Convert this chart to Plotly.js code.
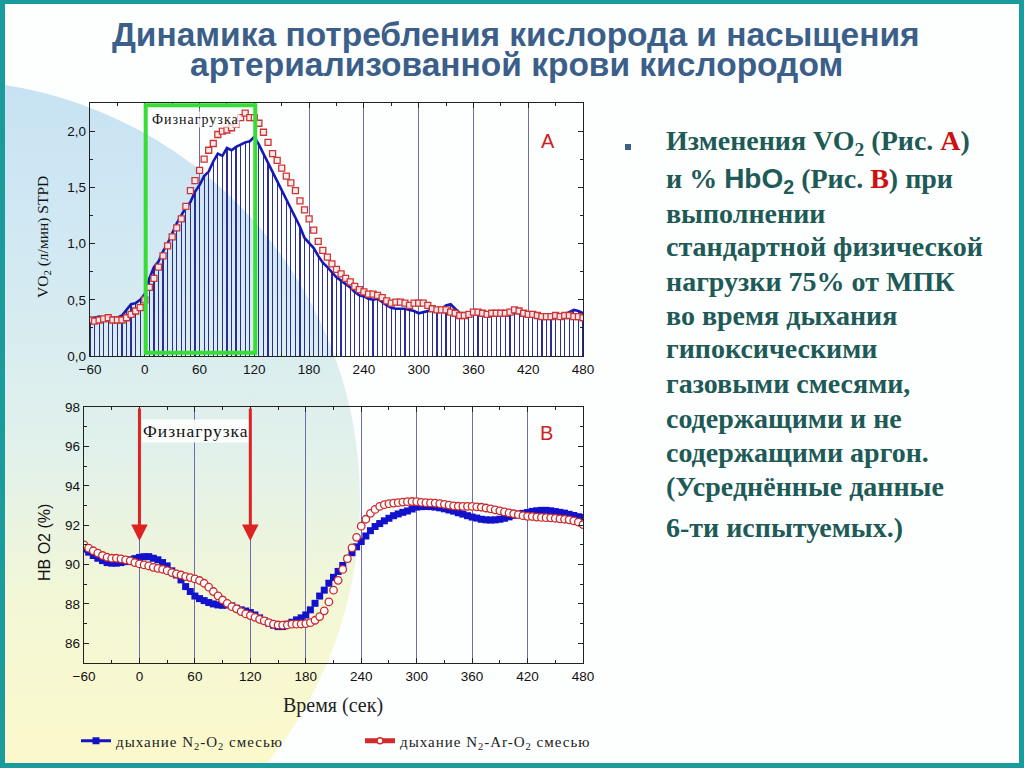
<!DOCTYPE html>
<html>
<head>
<meta charset="utf-8">
<script src="https://cdn.plot.ly/plotly-3.0.1.min.js"></script>
<style>
  html, body { margin:0; padding:0; width:1024px; height:768px; overflow:hidden; background:#fff; }
  #bg { position:absolute; left:0; top:0; width:1024px; height:768px; box-sizing:border-box;
        border:5px solid #1a9c9c; border-top-width:4px; background:#fdfefe; overflow:hidden; }
  #arc { position:absolute; left:-485px; top:76px; width:840px; height:840px; border-radius:50%;
         background:linear-gradient(to bottom, #c7e2f3 0%, #d3eaf3 22%, #e2f1ea 45%, #f3f7d6 62%, #fbf9cc 80%, #fcfacd 100%); }
  #chart { position:absolute; left:0; top:0; width:1024px; height:768px; }
</style>
</head>
<body>
<div id="bg"><div id="arc"></div></div>
<div id="chart"></div>
<script>
// time, seconds (common grid for both panels)
var timeSec = [-60,-55,-50,-45,-40,-35,-30,-25,-20,-15,-10,-5,0,5,10,15,20,25,30,35,40,45,50,55,
  60,65,70,75,80,85,90,95,100,105,110,115,120,125,130,135,140,145,150,155,160,165,170,175,
  180,185,190,195,200,205,210,215,220,225,230,235,240,245,250,255,260,265,270,275,280,285,290,295,
  300,305,310,315,320,325,330,335,340,345,350,355,360,365,370,375,380,385,390,395,400,405,410,415,
  420,425,430,435,440,445,450,455,460,465,470,475,480];

// Panel A: VO2 (л/мин) STPD
var vo2N2 = [0.33,0.34,0.35,0.34,0.33,0.34,0.34,0.36,0.41,0.46,0.47,0.50,0.55,0.69,0.79,0.84,0.93,1.00,1.09,1.18,1.25,1.32,1.37,1.46,
  1.52,1.60,1.64,1.73,1.80,1.78,1.85,1.83,1.86,1.88,1.90,1.91,1.95,1.88,1.80,1.72,1.64,1.56,1.48,1.40,1.32,1.24,1.15,1.05,
  1.00,0.96,0.89,0.83,0.79,0.74,0.70,0.67,0.64,0.61,0.57,0.54,0.53,0.51,0.50,0.51,0.48,0.45,0.43,0.42,0.42,0.42,0.41,0.40,
  0.38,0.39,0.40,0.41,0.41,0.42,0.45,0.46,0.42,0.38,0.37,0.37,0.38,0.38,0.38,0.37,0.37,0.37,0.37,0.37,0.38,0.39,0.38,0.37,
  0.37,0.37,0.36,0.36,0.36,0.36,0.36,0.36,0.37,0.39,0.41,0.40,0.38];
var vo2Ar = [0.32,0.31,0.32,0.33,0.34,0.32,0.32,0.32,0.34,0.37,0.40,0.43,0.50,0.61,0.69,0.79,0.89,0.98,1.06,1.14,1.22,1.33,1.47,1.56,
  1.65,1.75,1.83,1.89,1.97,2.00,2.01,2.03,2.06,2.12,2.16,2.12,2.12,2.07,1.99,1.90,1.80,1.74,1.67,1.60,1.54,1.47,1.38,1.30,
  1.22,1.12,1.02,0.94,0.88,0.82,0.77,0.73,0.69,0.66,0.62,0.59,0.57,0.55,0.55,0.54,0.52,0.49,0.47,0.48,0.48,0.47,0.45,0.47,
  0.47,0.47,0.45,0.42,0.41,0.41,0.41,0.39,0.38,0.36,0.36,0.37,0.39,0.39,0.38,0.37,0.38,0.38,0.38,0.38,0.39,0.41,0.40,0.38,
  0.37,0.37,0.36,0.35,0.35,0.35,0.36,0.35,0.36,0.36,0.35,0.35,0.34];

// Panel B: HB O2 (%)
var hbN2 = [90.78,90.63,90.46,90.32,90.20,90.10,90.07,90.07,90.10,90.15,90.24,90.30,90.36,90.40,90.40,90.32,90.24,90.10,89.93,89.68,89.47,89.22,88.88,88.63,
  88.40,88.27,88.17,88.07,88.00,87.95,87.93,87.95,87.90,87.78,87.70,87.64,87.56,87.44,87.29,87.15,87.02,86.92,86.85,86.85,86.97,87.07,87.19,87.29,
  87.44,87.70,88.03,88.40,88.70,89.05,89.35,89.65,89.95,90.30,90.60,90.90,91.17,91.45,91.72,91.93,92.08,92.22,92.35,92.48,92.57,92.65,92.72,92.82,
  92.92,92.94,92.95,92.94,92.92,92.88,92.83,92.77,92.71,92.63,92.56,92.48,92.41,92.36,92.30,92.27,92.26,92.27,92.30,92.35,92.42,92.50,92.56,92.60,
  92.64,92.70,92.73,92.75,92.75,92.73,92.69,92.65,92.61,92.55,92.49,92.43,92.39];
var hbAr = [91.00,90.83,90.70,90.58,90.46,90.37,90.32,90.32,90.29,90.24,90.19,90.10,90.03,89.98,89.93,89.86,89.81,89.76,89.69,89.59,89.53,89.47,89.39,89.34,
  89.27,89.19,89.05,88.85,88.63,88.41,88.20,88.03,87.86,87.75,87.61,87.49,87.41,87.32,87.22,87.14,87.05,86.97,86.93,86.92,86.93,86.97,86.97,86.98,
  87.00,87.05,87.17,87.36,87.65,88.10,88.70,89.20,89.75,90.30,90.85,91.38,91.95,92.30,92.60,92.80,92.95,93.04,93.09,93.12,93.14,93.17,93.19,93.20,
  93.19,93.16,93.14,93.13,93.12,93.09,93.06,93.02,92.98,92.96,92.95,92.95,92.95,92.93,92.91,92.87,92.83,92.78,92.73,92.67,92.62,92.58,92.53,92.48,
  92.45,92.44,92.41,92.39,92.38,92.37,92.35,92.32,92.30,92.27,92.22,92.15,92.03];

// exercise phase (s)
var loadPhase = [0, 120];

var seriesNames = ['дыхание N<sub>2</sub>-O<sub>2</sub> смесью', 'дыхание N<sub>2</sub>-Ar-O<sub>2</sub> смесью'];
var titleLines = ['Динамика потребления кислорода и насыщения', 'артериализованной крови кислородом'];
var bodyLines = [
  'Изменения VO<sub>2</sub> (Рис. <span style="color:#cc1111">А</span>)',
  'и % <span style="font-family:\'Liberation Sans\',Arial">HbO<sub>2</sub></span> (Рис. <span style="color:#cc1111">В</span>) при',
  'выполнении',
  'стандартной физической',
  'нагрузки 75% от МПК',
  'во время дыхания',
  'гипоксическими',
  'газовыми смесями,',
  'содержащими и не',
  'содержащими аргон.',
  '(Усреднённые данные',
  '6-ти испытуемых.)'
];
var bodyY = [142, 180, 213, 246, 281, 315, 349, 383, 418, 452, 486, 527];

var W = 1024, H = 768;
function px(x){ return x / W; }
function py(y){ return 1 - y / H; }
function spaced(s, ls){ return '<span style="letter-spacing:' + ls + 'px">' + s + '</span>'; }

var SANS = "'Liberation Sans', Arial, sans-serif";
var SERIF = "'Liberation Serif', 'Times New Roman', serif";

var traces = [
  { type:'bar', x:timeSec, y:vo2N2, width:1.3, xaxis:'x', yaxis:'y', showlegend:false,
    marker:{color:'#2c2c96', line:{width:0}}, hoverinfo:'skip' },
  { type:'scatter', mode:'lines', x:timeSec, y:vo2N2, xaxis:'x', yaxis:'y', showlegend:false,
    line:{color:'#1717b4', width:2.6} },
  { type:'scatter', mode:'markers', x:timeSec, y:vo2Ar, xaxis:'x', yaxis:'y', showlegend:false,
    marker:{symbol:'square', size:6, color:'rgba(255,236,236,0.95)', line:{color:'#cc3535', width:1.3}} },
  { type:'scatter', mode:'markers', x:timeSec, y:hbN2, xaxis:'x2', yaxis:'y2', showlegend:false,
    marker:{symbol:'square', size:7, color:'#1212cc', line:{width:0}} },
  { type:'scatter', mode:'markers', x:timeSec, y:hbAr, xaxis:'x2', yaxis:'y2', showlegend:false,
    marker:{symbol:'circle', size:7.5, color:'#ffffff', line:{color:'#cc2a2a', width:1.3}} },
  // legend entries
  { type:'scatter', mode:'lines+markers', x:[null], y:[null], xaxis:'x2', yaxis:'y2', name:spaced(seriesNames[0], 1),
    line:{color:'#1414c0', width:3}, marker:{symbol:'square', size:7, color:'#1414c0'} },
  { type:'scatter', mode:'lines+markers', x:[null], y:[null], xaxis:'x2', yaxis:'y2', name:spaced(seriesNames[1], 1),
    line:{color:'#d42a2a', width:5}, marker:{symbol:'circle', size:6, color:'#ffffff', line:{color:'#d42a2a', width:1.5}} }
];

function xAxisBase(domain, anchor){
  return {
    domain:domain, anchor:anchor, range:[-60,480], tick0:-60, dtick:60,
    ticks:'inside', ticklen:5, tickwidth:1, tickcolor:'#222', mirror:'ticks',
    showline:true, linecolor:'#222', linewidth:1.3, zeroline:false,
    showgrid:true, gridcolor:'#6c6cae', gridwidth:1,
    minor:{tick0:-60, dtick:30, ticks:'inside', ticklen:3, tickcolor:'#222', showgrid:false},
    tickfont:{family:SANS, size:13.5, color:'#111'}, fixedrange:true
  };
}
function yAxisBase(domain, anchor, range, dtick, mdtick){
  return {
    domain:domain, anchor:anchor, range:range, dtick:dtick,
    ticks:'inside', ticklen:5, tickwidth:1, tickcolor:'#222', mirror:'ticks',
    showline:true, linecolor:'#222', linewidth:1.3, zeroline:false, showgrid:false,
    minor:{dtick:mdtick, ticks:'inside', ticklen:3, tickcolor:'#222', showgrid:false},
    tickfont:{family:SANS, size:13.5, color:'#111'}, fixedrange:true
  };
}

var xa = xAxisBase([px(90), px(583)], 'y');
var ya = yAxisBase([py(356), py(103)], 'x', [0, 2.25], 0.5, 0.25);
ya.tickformat = '.1f';
var xb = xAxisBase([px(84), px(583)], 'y2');
var yb = yAxisBase([py(663), py(407)], 'x2', [85, 98], 2, 1);
yb.tick0 = 86;

var annotations = [];
annotations.push({xref:'paper', yref:'paper', x:px(516), y:py(35), text:titleLines[0], showarrow:false,
  xanchor:'center', yanchor:'middle', font:{family:SANS, size:33.5, color:'#3c5f8a', weight:'bold'}});
annotations.push({xref:'paper', yref:'paper', x:px(516), y:py(65), text:titleLines[1], showarrow:false,
  xanchor:'center', yanchor:'middle', font:{family:SANS, size:33.5, color:'#3c5f8a', weight:'bold'}});
for (var i = 0; i < bodyLines.length; i++) {
  annotations.push({xref:'paper', yref:'paper', x:px(664), y:py(bodyY[i]), text:bodyLines[i], showarrow:false,
    xanchor:'left', yanchor:'middle', align:'left', font:{family:SERIF, size:28, color:'#1e5a56', weight:'bold'}});
}
// axis titles
annotations.push({xref:'paper', yref:'paper', x:px(43), y:py(237), text:'VO<sub>2</sub> (л/мин) STPD', textangle:-90,
  showarrow:false, xanchor:'center', yanchor:'middle', font:{family:SERIF, size:15.5, color:'#111'}});
annotations.push({xref:'paper', yref:'paper', x:px(44), y:py(543), text:'HB O2 (%)', textangle:-90,
  showarrow:false, xanchor:'center', yanchor:'middle', font:{family:SANS, size:16, color:'#111'}});
annotations.push({xref:'paper', yref:'paper', x:px(333), y:py(705), text:'Время (сек)',
  showarrow:false, xanchor:'center', yanchor:'middle', font:{family:SERIF, size:20, color:'#222'}});
// panel labels
annotations.push({xref:'x', yref:'y', x:442, y:1.91, text:'A', showarrow:false, xanchor:'center', yanchor:'middle',
  font:{family:SANS, size:20, color:'#d02020'}});
annotations.push({xref:'x2', yref:'y2', x:440, y:96.7, text:'B', showarrow:false, xanchor:'center', yanchor:'middle',
  font:{family:SANS, size:20, color:'#d02020'}});
annotations.push({xref:'x', yref:'y', x:loadPhase[0] + 7, y:2.1, text:spaced('Физнагрузка', 1), showarrow:false, xanchor:'left', yanchor:'middle',
  bgcolor:'rgba(255,255,255,0.75)', borderpad:0, font:{family:SERIF, size:14, color:'#111'}});
annotations.push({xref:'x2', yref:'y2', x:loadPhase[0] + 1.5, y:96.78, text:spaced('Физнагрузка', 1), showarrow:false, xanchor:'left', yanchor:'middle',
  bgcolor:'rgba(255,255,255,0.9)', borderpad:1, font:{family:SERIF, size:17.5, color:'#111'}});
// load arrows
for (var k = 0; k < loadPhase.length; k++) {
  annotations.push({xref:'x2', yref:'y2', axref:'x2', ayref:'y2', x:loadPhase[k], y:91.2, ax:loadPhase[k], ay:98,
    text:'', showarrow:true, arrowhead:2, arrowsize:1.1, arrowwidth:3, arrowcolor:'#dd2222', standoff:0, startstandoff:0});
}

var shapes = [
  {type:'rect', xref:'x', yref:'y', x0:loadPhase[0] + 1, x1:loadPhase[1] + 1, y0:0.03, y1:2.23,
   line:{color:'#35dd35', width:4}, fillcolor:'rgba(0,0,0,0)', layer:'above'},
  {type:'rect', xref:'paper', yref:'paper', x0:px(625), x1:px(631), y0:py(150), y1:py(144),
   line:{width:0}, fillcolor:'#3e5e8e'}
];

var layout = {
  width:W, height:H, margin:{l:0, r:0, t:0, b:0},
  paper_bgcolor:'rgba(0,0,0,0)', plot_bgcolor:'rgba(0,0,0,0)',
  separators:', ', bargap:0, showlegend:true,
  xaxis:xa, yaxis:ya, xaxis2:xb, yaxis2:yb,
  legend:{orientation:'h', x:px(76), y:py(741), xanchor:'left', yanchor:'middle',
          bgcolor:'rgba(0,0,0,0)', font:{family:SERIF, size:15, color:'#222'},
          entrywidth:239, entrywidthmode:'pixels', itemclick:false, itemdoubleclick:false},
  annotations:annotations, shapes:shapes
};

Plotly.newPlot('chart', traces, layout, {staticPlot:true, displayModeBar:false});
</script>
</body>
</html>
